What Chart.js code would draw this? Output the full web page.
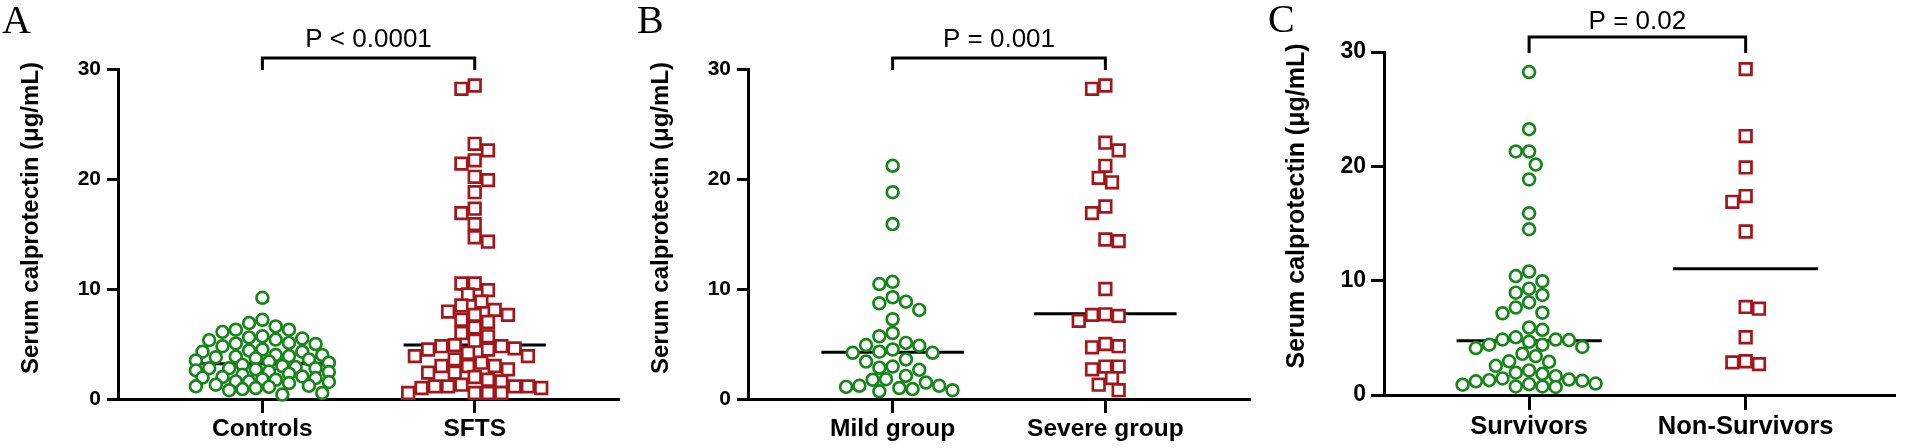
<!DOCTYPE html>
<html>
<head>
<meta charset="utf-8">
<script src="https://cdn.jsdelivr.net/npm/chart.js@4.4.1/dist/chart.umd.min.js"></script>
<style>
  html, body { margin: 0; padding: 0; background: #fff; }
  #wrap { position: relative; width: 1906px; height: 448px; overflow: hidden; background: #fff; }
  canvas { position: absolute; top: 0; }
</style>
</head>
<body>
<div id="wrap">
  <canvas id="cA" width="630" height="448" style="left:0px"></canvas>
  <canvas id="cB" width="636" height="448" style="left:630px"></canvas>
  <canvas id="cC" width="640" height="448" style="left:1266px"></canvas>
</div>
<script>
// ---------------- DATA ----------------
const catsA = ["Controls", "SFTS"];
const catsB = ["Mild group", "Severe group"];
const catsC = ["Survivors", "Non-Survivors"];
const yTicks = [0, 10, 20, 30];
const pTexts = ["P < 0.0001", "P = 0.001", "P = 0.02"];
const panelLetters = ["A", "B", "C"];
const yTitle = "Serum calprotectin (\u03bcg/mL)";

const controls = [9.2, 7.2, 6.9, 6.6, 6.3, 6.3, 6.1, 5.7, 5.6, 5.5, 5.4, 5.35, 5.1, 5.05, 5.0, 4.8, 4.5, 4.4, 4.3, 4.3,
  4.0, 4.0, 3.9, 3.85, 3.8, 3.7, 3.6, 3.5, 3.4, 3.3, 3.1, 3.0, 2.9, 2.8, 2.8, 2.8, 2.7, 2.6, 2.5, 2.45,
  2.3, 2.2, 2.05, 2.0, 1.95, 1.9, 1.8, 1.75, 1.6, 1.6, 1.55, 1.45, 1.3, 1.2, 1.15, 1.1, 1.0, 0.9, 0.8, 0.55, 0.4];
const sfts = [28.5, 28.2, 23.2, 22.6, 21.7, 21.4, 20.2, 19.9, 18.8, 17.3, 16.9, 15.9, 14.7, 14.3, 10.5, 10.5, 9.9, 9.5,
  8.85, 8.5, 8.1, 7.95, 7.65, 7.65, 7.2, 7.0, 6.5, 6.0, 5.7, 5.3, 4.9, 4.8, 4.8, 4.6, 4.5, 4.5, 4.2, 3.9, 3.9, 3.6,
  3.3, 3.0, 3.0, 3.0, 2.7, 2.4, 2.4, 2.0, 1.75, 1.6, 1.3, 1.15, 1.15, 1.15, 1.15, 1.0, 1.0, 0.55, 0.55, 0.55, 0.55];
const mild = [21.2, 18.8, 15.9, 10.65, 10.45, 9.25, 8.85, 8.7, 8.1, 7.25, 6.0, 5.7, 5.1, 4.9, 4.85, 4.5, 4.3, 4.2, 4.2,
  3.6, 3.4, 2.95, 2.85, 2.65, 2.1, 1.8, 1.75, 1.5, 1.2, 1.2, 1.1, 1.0, 0.9, 0.8, 0.7];
const severe = [28.5, 28.2, 23.3, 22.6, 21.2, 20.1, 19.7, 17.5, 16.9, 14.5, 14.35, 10.0, 7.7, 7.65, 7.55, 7.1, 5.0, 4.8,
  4.7, 2.95, 2.95, 2.7, 1.9, 1.3, 0.8];
const survivors = [28.25, 23.25, 21.3, 21.3, 20.15, 18.85, 15.9, 14.5, 10.8, 10.4, 9.95, 9.3, 8.95, 8.75, 8.1, 7.65, 7.2,
  7.15, 5.9, 5.7, 5.05, 4.85, 4.85, 4.8, 4.65, 4.4, 4.4, 4.2, 4.1, 3.6, 3.4, 2.95, 2.9, 2.55, 2.15, 1.95, 1.85, 1.65,
  1.45, 1.35, 1.3, 1.25, 1.2, 1.0, 0.95, 0.9, 0.75, 0.75, 0.7];
const nonSurvivors = [28.5, 22.65, 19.9, 17.4, 16.9, 14.3, 7.7, 7.55, 5.05, 2.95, 2.85, 2.7];
const mediansA = [3.2, 4.9];
const mediansB = [4.25, 7.75];
const mediansC = [4.75, 11.05];

// ---------------- STYLE ----------------
const GREEN = '#16861a';
const RED = '#a3161b';
const FONT = "'Liberation Sans', Arial, sans-serif";
const SERIF = "'Liberation Serif', 'Times New Roman', serif";

// beeswarm layout computed from values in pixel space
function swarm(vals, yPix, D, step, maxOff) {
  const idx = vals.map((_, i) => i).sort((a, b) => vals[b] - vals[a]);
  const placed = [];
  const off = new Array(vals.length).fill(0);
  const K = Math.floor(maxOff / step + 1e-9);
  let flip = 1;
  for (const i of idx) {
    const y = yPix(vals[i]);
    const minDist = (x) => {
      let md = Infinity;
      for (const p of placed) {
        const d = Math.hypot(p.x - x, p.y - y);
        if (d < md) md = d;
      }
      return md;
    };
    let chosen = null;
    let bestAny = null, bestAnyD = -1;
    for (let k = 0; k <= K && chosen === null; k++) {
      const cands = k === 0 ? [0] : [-k * step * flip, k * step * flip];
      let bestHere = null, bestHereD = -1;
      for (const x of cands) {
        const md = minDist(x);
        if (md > bestAnyD + 0.5) { bestAnyD = md; bestAny = x; }
        if (md >= D && md > bestHereD + 0.01) { bestHereD = md; bestHere = x; }
      }
      if (bestHere !== null) chosen = bestHere;
    }
    if (chosen === null) chosen = bestAny;
    if (chosen !== 0) flip = -flip;
    placed.push({ x: chosen, y: y });
    off[i] = chosen;
  }
  return off;
}

const annot = {
  id: 'annot',
  afterDraw(chart, args, o) {
    const ctx = chart.ctx;
    const xs = chart.scales.x;
    ctx.save();
    ctx.fillStyle = '#000';
    ctx.strokeStyle = '#000';
    // panel letter
    ctx.font = o.letterSize + 'px ' + SERIF;
    ctx.textAlign = 'left';
    ctx.textBaseline = 'alphabetic';
    ctx.fillText(o.letter, o.letterX, o.letterY);
    // y title
    ctx.save();
    ctx.translate(o.titleX, o.titleY);
    ctx.rotate(-Math.PI / 2);
    ctx.font = 'bold ' + o.titleSize + 'px ' + FONT;
    ctx.textAlign = 'center';
    ctx.fillText(yTitle, 0, 0);
    ctx.restore();
    // bracket
    const x1 = xs.getPixelForValue(1), x2 = xs.getPixelForValue(2);
    const top = o.bracketTop, bot = chart.chartArea.top + 1;
    ctx.lineWidth = 3;
    ctx.lineJoin = 'miter';
    ctx.beginPath();
    ctx.moveTo(x1, bot);
    ctx.lineTo(x1, top);
    ctx.lineTo(x2, top);
    ctx.lineTo(x2, bot);
    ctx.stroke();
    // p text
    ctx.font = o.pSize + 'px ' + FONT;
    ctx.textAlign = 'center';
    ctx.fillText(o.pText, (x1 + x2) / 2, o.pY);
    ctx.restore();
  }
};

function makePanel(id, cats, g1, g2, meds, cfg) {
  const ds = [
    { label: cats[0], data: g1.map(v => ({ x: 1, y: v })), pointStyle: 'circle', pointRadius: cfg.circR,
      borderColor: GREEN, backgroundColor: '#fff', pointBorderWidth: 2.7, showLine: false, clip: false, order: 1 },
    { label: cats[1], data: g2.map(v => ({ x: 2, y: v })), pointStyle: 'rect', pointRadius: cfg.rectR,
      borderColor: RED, backgroundColor: '#fff', pointBorderWidth: 2.7, showLine: false, clip: false, order: 1 },
  ];
  meds.forEach((m, i) => {
    ds.push({ type: 'line', label: 'median ' + cats[i], data: [{ x: i + 1 - cfg.medHalf, y: m }, { x: i + 1 + cfg.medHalf, y: m }],
      borderColor: '#000', borderWidth: 3, pointRadius: 0, clip: false, order: 2 });
  });
  const chart = new Chart(document.getElementById(id), {
    type: 'scatter',
    data: { datasets: ds },
    options: {
      responsive: false,
      animation: false,
      events: [],
      layout: { padding: { top: cfg.top, left: 0, right: cfg.padRight, bottom: 0 } },
      plugins: {
        legend: { display: false },
        tooltip: { enabled: false },
        annot: cfg.annot
      },
      scales: {
        x: {
          type: 'linear', min: cfg.xMin, max: cfg.xMax,
          afterBuildTicks: (s) => { s.ticks = [{ value: 1 }, { value: 2 }]; },
          afterFit: (s) => { s.height = cfg.xAxisH; },
          ticks: { callback: (v) => cats[Math.round(v) - 1], color: '#000', padding: cfg.xPad, maxRotation: 0, autoSkip: false,
            font: { family: FONT, weight: 'bold', size: cfg.catSize } },
          grid: { drawOnChartArea: false, drawTicks: true, tickLength: cfg.xTickLen, tickWidth: 3, tickColor: '#000' },
          border: { display: true, color: '#000', width: 3 }
        },
        y: {
          type: 'linear', min: 0, max: 30,
          afterBuildTicks: (s) => { s.ticks = yTicks.map(v => ({ value: v })); },
          afterFit: (s) => { s.width = cfg.yAxisW; },
          ticks: { color: '#000', padding: cfg.yPad, font: { family: FONT, weight: 'bold', size: cfg.tickSize } },
          grid: { drawOnChartArea: false, drawTicks: true, tickLength: cfg.yTickLen, tickWidth: 3, tickColor: '#000' },
          border: { display: true, color: '#000', width: 3 }
        }
      }
    },
    plugins: [annot]
  });
  // compute swarm offsets from the scales
  const xs = chart.scales.x, ys = chart.scales.y;
  const pxPerX = xs.getPixelForValue(2) - xs.getPixelForValue(1);
  const yPix = (v) => ys.getPixelForValue(v);
  [g1, g2].forEach((g, gi) => {
    const offs = swarm(g, yPix, cfg.D, cfg.step, cfg.maxOff);
    chart.data.datasets[gi].data = g.map((v, i) => ({ x: gi + 1 + offs[i] / pxPerX, y: v }));
  });
  chart.update('none');
  return chart;
}

const baseAB = {
  top: 69, padRight: 10, xMin: 0.32, xMax: 2.68, xAxisH: 49, yAxisW: 118,
  xPad: 2, xTickLen: 14, yPad: 6, yTickLen: 11, tickSize: 21, catSize: 24.5,
  circR: 5.9, rectR: 8.2, medHalf: 0.335, D: 12.6, step: 6.65, maxOff: 73
};

makePanel('cA', catsA, controls, sfts, mediansA, Object.assign({}, baseAB, {
  annot: { letter: panelLetters[0], letterX: 2, letterY: 33, letterSize: 40, titleX: 38, titleY: 218, titleSize: 24,
    bracketTop: 58, pText: pTexts[0], pY: 47, pSize: 26 }
}));
makePanel('cB', catsB, mild, severe, mediansB, Object.assign({}, baseAB, {
  padRight: 16, D: 13.2,
  annot: { letter: panelLetters[1], letterX: 7, letterY: 33, letterSize: 40, titleX: 38, titleY: 218, titleSize: 24,
    bracketTop: 58, pText: pTexts[1], pY: 47, pSize: 26 }
}));
makePanel('cC', catsC, survivors, nonSurvivors, mediansC, Object.assign({}, baseAB, {
  top: 52, padRight: 0, xMin: 0.33, xMax: 2.69, xAxisH: 53, yPad: 5, yTickLen: 13, xTickLen: 15,
  tickSize: 23, catSize: 25.5, D: 13.2, maxOff: 73,
  annot: { letter: panelLetters[2], letterX: 2, letterY: 32, letterSize: 40, titleX: 38, titleY: 206, titleSize: 25,
    bracketTop: 37, pText: pTexts[2], pY: 29, pSize: 26 }
}));
</script>
</body>
</html>
